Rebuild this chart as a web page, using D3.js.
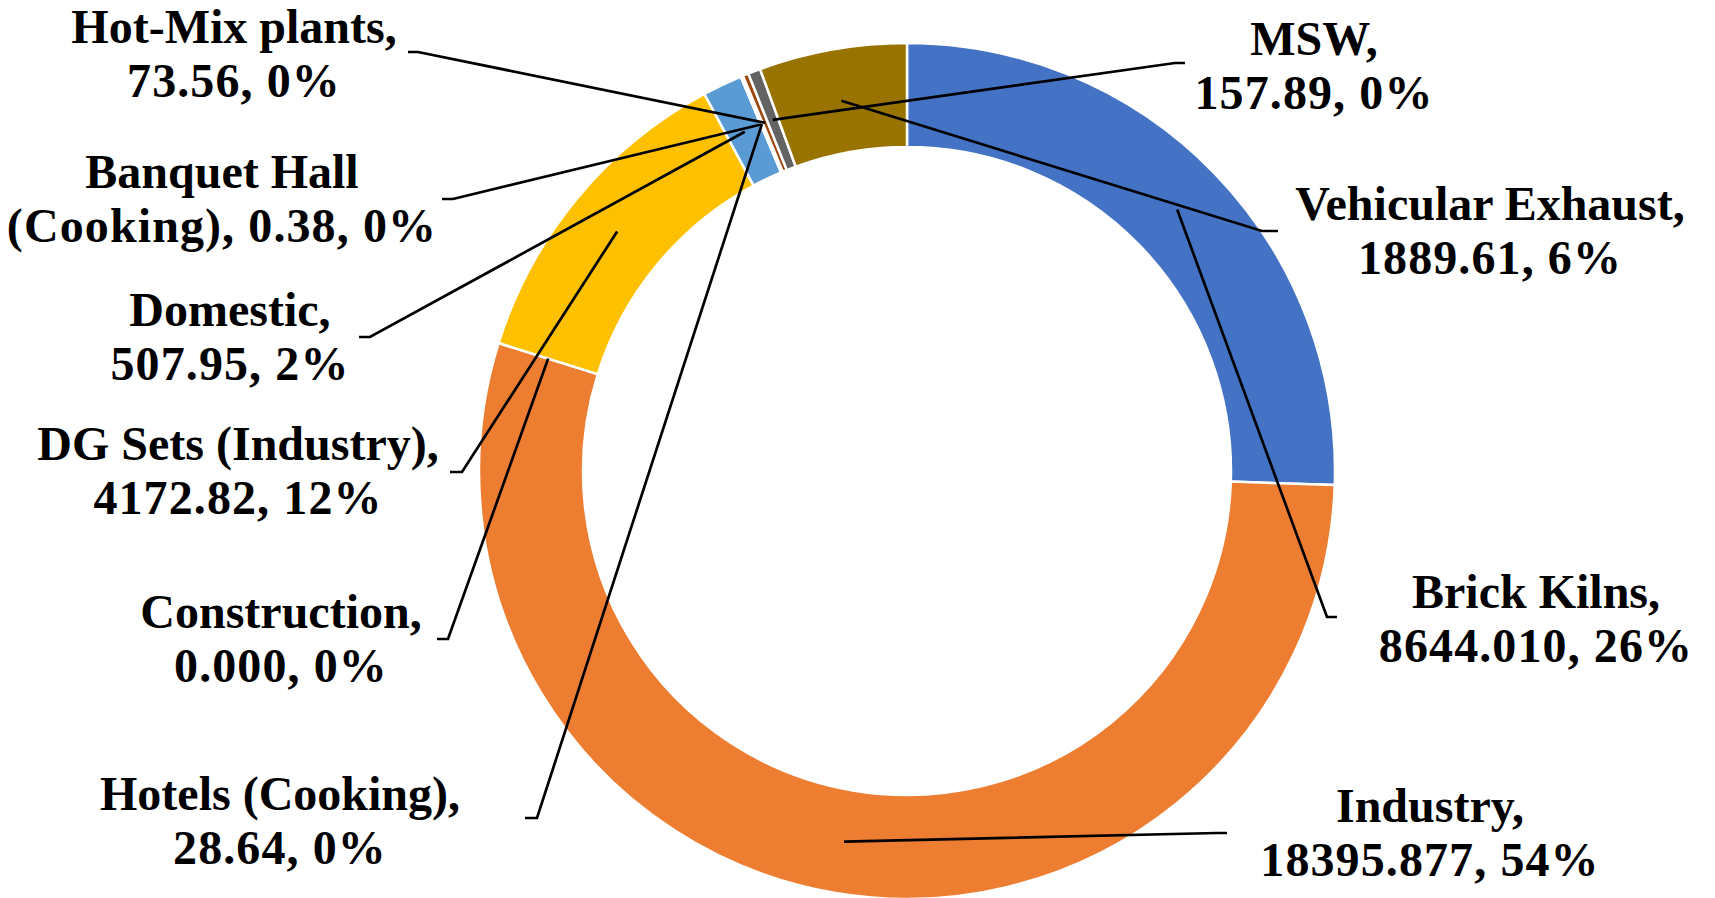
<!DOCTYPE html>
<html>
<head>
<meta charset="utf-8">
<script src="https://cdn.jsdelivr.net/npm/d3@7"></script>
<style>
  html, body { margin: 0; padding: 0; background: #ffffff; }
  svg { display: block; }
  .lbl { font-family: "Liberation Serif", "Times New Roman", serif; font-weight: bold; font-size: 48px; fill: #000; }
  .lbl .nums { letter-spacing: 1.1px; }
</style>
</head>
<body>
<svg id="chart" width="1715" height="898"></svg>
<script>
// Emission sources, in slice order (clockwise from 12 o'clock)
const categories = [
  "Brick Kilns", "Industry", "Construction", "DG Sets (Industry)", "Domestic",
  "Banquet Hall (Cooking)", "Hotels (Cooking)", "Hot-Mix plants", "MSW", "Vehicular Exhaust"
];
// Emission loads as printed on the labels
const valueLabels = [
  "8644.010", "18395.877", "0.000", "4172.82", "507.95",
  "0.38", "28.64", "73.56", "157.89", "1889.61"
];
const values = valueLabels.map(Number);
// Share of the total as printed on the labels
const shareLabels = ["26%", "54%", "0%", "12%", "2%", "0%", "0%", "0%", "0%", "6%"];
// Office palette, one colour per source
const colors = [
  "#4472C4", "#ED7D31", "#A5A5A5", "#FFC000", "#5B9BD5",
  "#70AD47", "#264478", "#9E480E", "#636363", "#997300"
];

// Label placement: centre x, first baseline, words on the first line,
// and the leader's bend / end point beside the label.
const layout = {
  "Brick Kilns":            { x: 1536, y: 608, words: 2, bend: [1327, 617], end: [1337, 617] },
  "Industry":               { x: 1430, y: 822, words: 1, bend: [1217, 833], end: [1227, 833] },
  "Construction":           { x: 281,  y: 628, words: 1, bend: [448, 639],  end: [437, 639] },
  "DG Sets (Industry)":     { x: 238,  y: 460, words: 3, bend: [462, 472],  end: [450, 472] },
  "Domestic":               { x: 230,  y: 326, words: 1, bend: [370, 337],  end: [359, 337] },
  "Banquet Hall (Cooking)": { x: 222,  y: 188, words: 2, bend: [453, 199],  end: [442, 199] },
  "Hotels (Cooking)":       { x: 280,  y: 810, words: 2, bend: [537, 818],  end: [525, 818] },
  "Hot-Mix plants":         { x: 234,  y: 43,  words: 2, bend: [418, 52],   end: [408, 52] },
  "MSW":                    { x: 1314, y: 55,  words: 1, bend: [1175, 63],  end: [1185, 63] },
  "Vehicular Exhaust":      { x: 1490, y: 220, words: 2, bend: [1262, 231], end: [1278, 231] }
};

const cx = 907, cy = 471, outerR = 428, innerR = 324, lineGap = 54;

const data = categories.map((name, i) => ({
  name, value: values[i], valueLabel: valueLabels[i], share: shareLabels[i], color: colors[i]
}));

const svg = d3.select("#chart");
const g = svg.append("g").attr("transform", `translate(${cx},${cy})`);

const pie = d3.pie().sort(null).value(d => d.value).startAngle(0).endAngle(2 * Math.PI);
const arc = d3.arc().innerRadius(innerR).outerRadius(outerR);
const arcs = pie(data);

// Ring slices
g.selectAll("path.slice")
  .data(arcs)
  .join("path")
  .attr("class", "slice")
  .attr("d", arc)
  .attr("fill", d => d.data.color)
  .attr("stroke", "#ffffff")
  .attr("stroke-width", 2.5)
  .attr("stroke-linejoin", "miter");

// Leader lines: from the slice's mid-ring point to the label
svg.append("g").selectAll("path.leader")
  .data(arcs)
  .join("path")
  .attr("class", "leader")
  .attr("fill", "none")
  .attr("stroke", "#000")
  .attr("stroke-width", 2.7)
  .attr("d", d => {
    const [px, py] = arc.centroid(d);
    const L = layout[d.data.name];
    return d3.line()([[cx + px, cy + py], L.bend, L.end]);
  });

// Two-line data labels: "Name, value, share"
const labels = svg.append("g").selectAll("text.lbl")
  .data(data)
  .join("text")
  .attr("class", "lbl")
  .attr("text-anchor", "middle")
  .attr("x", d => layout[d.name].x)
  .attr("y", d => layout[d.name].y);

labels.each(function(d) {
  const L = layout[d.name];
  const full = `${d.name}, ${d.valueLabel}, ${d.share}`.split(" ");
  const line1 = full.slice(0, L.words).join(" ");
  const line2 = full.slice(L.words).join(" ");
  const t = d3.select(this);
  t.append("tspan").attr("x", L.x).attr("dy", 0).text(line1);
  t.append("tspan").attr("class", "nums").attr("x", L.x).attr("dy", lineGap).text(line2);
});
</script>
</body>
</html>
